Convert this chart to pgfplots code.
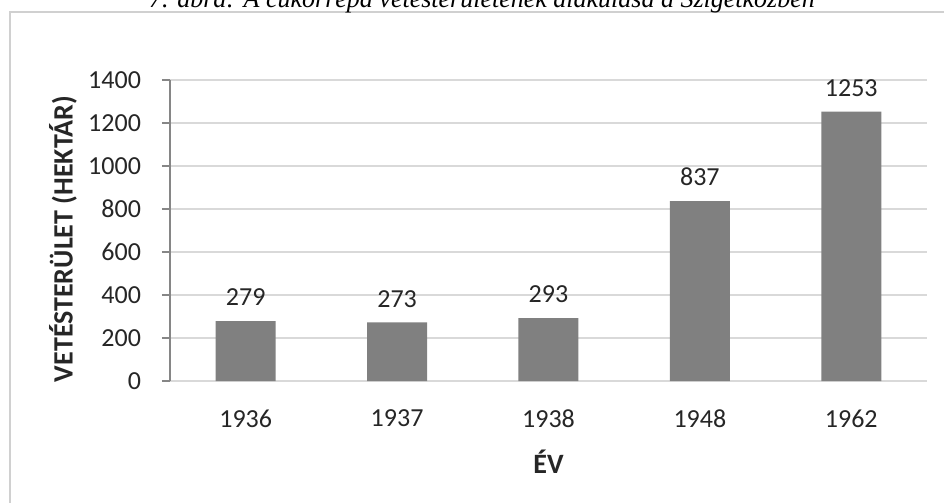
\documentclass[border=0pt]{standalone}
\usepackage{pgfplots}
\pgfplotsset{compat=1.18}
\usepackage{fontspec}
\setmainfont{Carlito}
\newfontfamily\capfont{Liberation Serif}

\definecolor{bargray}{HTML}{808080}
\definecolor{gridgray}{HTML}{D9D9D9}
\definecolor{axisgray}{HTML}{868686}
\definecolor{framegray}{HTML}{D0D0D0}

\begin{document}
\begin{tikzpicture}
    \clip (0,0) rectangle (472pt,-251.5pt);
    \fill[white] (0,0) rectangle (472pt,-251.5pt);
    % chart frame (only left and top edges are in view)
    \draw[framegray, line width=1pt] (5pt,-260pt) -- (5pt,-6pt) -- (490pt,-6pt);
    % caption, cut off at the top as in the source
    \node[anchor=base, inner sep=0pt, font=\capfont\itshape\fontsize{13}{15}\selectfont]
        at (241pt,-3.5pt) {7. ábra: A cukorrépa vetésterületének alakulása a Szigetközben};

    \begin{axis}[
        at={(85pt,-190.5pt)},
        anchor=south west,
        scale only axis,
        width=378.5pt,
        height=150.5pt,
        ybar,
        bar width=30pt,
        xmin=-0.5, xmax=4.5,
        ymin=0, ymax=1400,
        ytick={0,200,...,1400},
        xtick=data,
        xticklabels={1936,1937,1938,1948,1962},
        /pgf/number format/1000 sep={},
        /pgf/number format/assume math mode=true,
        axis lines*=left,
        axis line style={-},
        x axis line style={draw=gridgray, line width=0.8pt},
        y axis line style={draw=axisgray, line width=0.8pt},
        ymajorgrids,
        grid style={gridgray, line width=0.8pt},
        tick align=outside,
        major tick length=4pt,
        ytick style={draw=axisgray, line width=0.8pt},
        xtick style={draw=none},
        tick label style={font=\fontsize{13}{15}\selectfont, text=black!85},
        yticklabel style={xshift=-7pt},
        xticklabel style={yshift=-7pt},
        xlabel={\textbf{ÉV}},
        ylabel={\textbf{VETÉSTERÜLET (HEKTÁR)}},
        label style={font=\fontsize{14}{16}\selectfont, text=black!85},
        xlabel style={at={(axis description cs:0.5,-0.268)}, anchor=center},
        ylabel style={at={(axis description cs:-0.1413,0.472)}, anchor=center},
        nodes near coords,
        every node near coord/.append style={font=\fontsize{13}{15}\selectfont, text=black!85, yshift=4pt},
    ]
        \addplot[fill=bargray, draw=none] coordinates {(0,279) (1,273) (2,293) (3,837) (4,1253)};
    \end{axis}
\end{tikzpicture}
\end{document}
